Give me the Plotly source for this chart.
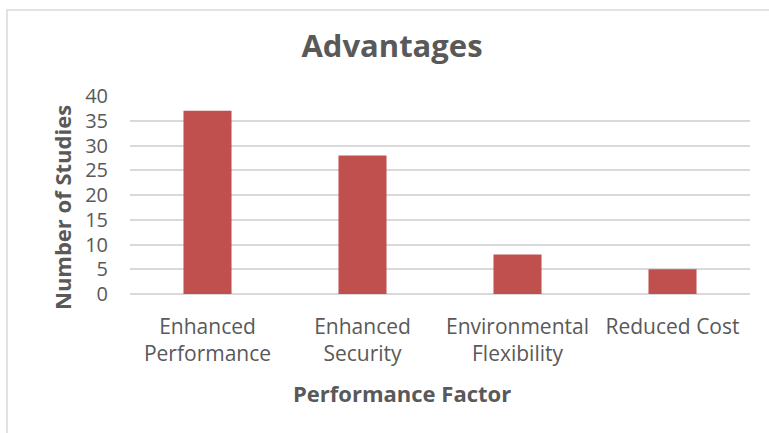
import plotly.graph_objects as go

categories = ["Enhanced<br>Performance", "Enhanced<br>Security", "Environmental<br>Flexibility", "Reduced Cost"]
values = [37, 28, 8, 5]
y_ticks = [0, 5, 10, 15, 20, 25, 30, 35, 40]

W, H = 769, 433
L, R, T, B = 130, 19, 96, 139
pw, ph = W - L - R, H - T - B

def px_x(px):
    return (px - L) / pw

def px_y(py):
    return (H - B - py) / ph

font_family = "'Open Sans', sans-serif"
gray = "#595959"

fig = go.Figure(go.Bar(x=categories, y=values, marker=dict(color="#C0504D", line=dict(width=0)), width=0.31))

fig.update_layout(
    width=W, height=H,
    margin=dict(l=L, r=R, t=T, b=B),
    paper_bgcolor="white", plot_bgcolor="white",
    showlegend=False,
    title=dict(text="<b>Advantages</b>", x=px_x(392), xanchor="center", xref="paper",
               y=1 - 46 / H, yanchor="middle",
               font=dict(family=font_family, size=31, color=gray)),
    font=dict(family=font_family, color=gray),
)
fig.update_xaxes(
    tickfont=dict(size=21, color=gray), showgrid=False, showline=False, ticks="",
    ticklabelstandoff=18,
)
fig.update_yaxes(
    range=[0, 40], tickvals=y_ticks, tickfont=dict(size=20, color=gray),
    showgrid=True, gridcolor="#D9D9D9", gridwidth=1.5, zeroline=True, zerolinecolor="#D9D9D9", zerolinewidth=1.5,
    showline=False, ticks="", ticklabelstandoff=21,
)
fig.add_annotation(text="<b>Performance Factor</b>", xref="paper", yref="paper",
                   x=px_x(402), y=px_y(393), xanchor="center", yanchor="middle", showarrow=False,
                   font=dict(size=22, color=gray, family=font_family))
fig.add_annotation(text="<b>Number of Studies</b>", xref="paper", yref="paper",
                   x=px_x(62), y=px_y(208), xanchor="center", yanchor="middle", showarrow=False,
                   textangle=-90, font=dict(size=22, color=gray, family=font_family))
fig.add_shape(type="rect", xref="paper", yref="paper",
              x0=px_x(7), x1=px_x(775), y0=px_y(440), y1=px_y(10),
              line=dict(color="#D9D9D9", width=1.5), fillcolor="rgba(0,0,0,0)", layer="below")

fig.write_html("out.html")
